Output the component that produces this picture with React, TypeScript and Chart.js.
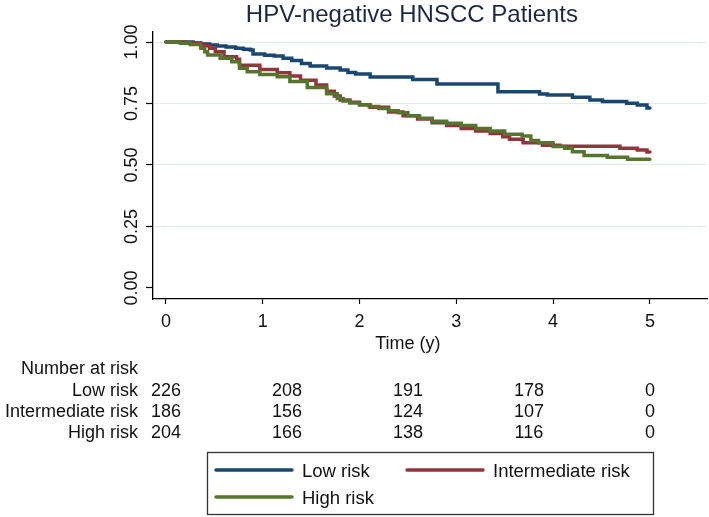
import React, { useEffect, useRef } from 'react';
import { Chart, registerables } from 'chart.js';

Chart.register(...registerables);

const TITLE = 'HPV-negative HNSCC Patients';
const X_TITLE = 'Time (y)';
const X_TICKS = [0, 1, 2, 3, 4, 5];
const Y_TICKS = [0, 0.25, 0.5, 0.75, 1];
const Y_TICK_LABELS = ['0.00', '0.25', '0.50', '0.75', '1.00'];
const SERIES_NAMES = ['Low risk', 'Intermediate risk', 'High risk'];
const SERIES_COLORS = ['#1a476f', '#90353b', '#55752f'];

// Kaplan-Meier step points (time in years, survival)
const lowT = [0, 0.28, 0.36, 0.45, 0.53, 0.62, 0.72, 0.8, 0.87, 0.9, 1.02, 1.12, 1.21, 1.3, 1.4, 1.49, 1.66, 1.8, 1.88, 1.96, 2.11, 2.55, 2.8, 3.43, 3.86, 3.94, 4.2, 4.38, 4.51, 4.76, 4.87, 4.97, 5.0];
const lowS = [1, 0.996, 0.992, 0.988, 0.984, 0.98, 0.975, 0.971, 0.967, 0.951, 0.946, 0.943, 0.934, 0.925, 0.913, 0.902, 0.894, 0.886, 0.876, 0.87, 0.858, 0.848, 0.829, 0.798, 0.789, 0.785, 0.775, 0.764, 0.758, 0.751, 0.744, 0.732, 0.732];

const midT = [0, 0.2, 0.36, 0.45, 0.51, 0.6, 0.73, 0.76, 0.97, 1.15, 1.28, 1.39, 1.55, 1.66, 1.74, 1.8, 1.9, 2.0, 2.11, 2.3, 2.45, 2.6, 2.75, 2.9, 3.05, 3.2, 3.35, 3.48, 3.55, 3.69, 3.89, 4.07, 4.69, 4.87, 4.97, 5.0];
const midS = [1, 0.995, 0.985, 0.975, 0.96, 0.94, 0.93, 0.905, 0.888, 0.875, 0.862, 0.845, 0.825, 0.8, 0.78, 0.764, 0.755, 0.745, 0.735, 0.715, 0.7, 0.687, 0.672, 0.66, 0.648, 0.638, 0.628, 0.615, 0.605, 0.59, 0.58, 0.576, 0.568, 0.561, 0.553, 0.553];

const highT = [0, 0.15, 0.25, 0.36, 0.4, 0.43, 0.56, 0.68, 0.76, 0.84, 0.97, 1.15, 1.28, 1.46, 1.66, 1.77, 1.83, 1.9, 2.0, 2.1, 2.2, 2.3, 2.4, 2.5, 2.62, 2.75, 2.9, 3.05, 3.2, 3.35, 3.5, 3.68, 3.77, 3.85, 4.0, 4.12, 4.2, 4.32, 4.56, 4.77, 5.0];
const highS = [1, 0.995, 0.99, 0.975, 0.96, 0.947, 0.934, 0.92, 0.893, 0.879, 0.868, 0.859, 0.839, 0.815, 0.79, 0.77, 0.76, 0.752, 0.745, 0.738, 0.73, 0.72, 0.712, 0.7, 0.69, 0.678, 0.67, 0.66, 0.648, 0.638, 0.625, 0.618, 0.6, 0.59, 0.575, 0.568, 0.554, 0.539, 0.531, 0.523, 0.523];

const RISK_HEADER = 'Number at risk';
const RISK_TIMES = [0, 1.25, 2.5, 3.75, 5];
const RISK_LOW = [226, 208, 191, 178, 0];
const RISK_MID = [186, 156, 124, 107, 0];
const RISK_HIGH = [204, 166, 138, 116, 0];

const FONT = "'Liberation Sans', Arial, Helvetica, sans-serif";
const TEXT = '#111111';

export default function App() {
  const ref = useRef<HTMLCanvasElement>(null);

  useEffect(() => {
    const canvas = ref.current;
    if (!canvas) return;
    const series = [
      { t: lowT, s: lowS },
      { t: midT, s: midS },
      { t: highT, s: highS },
    ];
    const riskRows = [RISK_LOW, RISK_MID, RISK_HIGH];

    const overlay = {
      id: 'overlay',
      afterDraw(chart: any) {
        const ctx = chart.ctx as CanvasRenderingContext2D;
        const xs = chart.scales.x;
        const ys = chart.scales.y;
        ctx.save();
        // title
        ctx.fillStyle = '#1b2840';
        ctx.font = `24px ${FONT}`;
        ctx.textAlign = 'center';
        ctx.textBaseline = 'alphabetic';
        ctx.fillText(TITLE, xs.getPixelForValue(2.5) + 4, 22);

        // y tick labels (rotated)
        ctx.fillStyle = TEXT;
        ctx.font = `18px ${FONT}`;
        Y_TICKS.forEach((v, i) => {
          const y = ys.getPixelForValue(v);
          ctx.save();
          ctx.translate(137, y);
          ctx.rotate(-Math.PI / 2);
          ctx.textAlign = 'center';
          ctx.textBaseline = 'alphabetic';
          ctx.fillText(Y_TICK_LABELS[i], 0, 0);
          ctx.restore();
        });

        // x axis title
        ctx.textAlign = 'center';
        ctx.fillText(X_TITLE, xs.getPixelForValue(2.5), 349);

        // risk table
        ctx.textAlign = 'right';
        ctx.fillText(RISK_HEADER, 138, 374);
        const rowBase = [396, 417, 438];
        riskRows.forEach((row, r) => {
          ctx.textAlign = 'right';
          ctx.fillText(SERIES_NAMES[r], 138, rowBase[r]);
          ctx.textAlign = 'center';
          row.forEach((n, k) => {
            ctx.fillText(String(n), xs.getPixelForValue(RISK_TIMES[k]), rowBase[r]);
          });
        });

        // legend
        ctx.strokeStyle = '#333333';
        ctx.lineWidth = 1.3;
        ctx.strokeRect(207.5, 452.5, 446, 62);
        const items = [
          { x: 216, y: 470 },
          { x: 407, y: 470 },
          { x: 216, y: 497 },
        ];
        ctx.font = `18.5px ${FONT}`;
        ctx.textAlign = 'left';
        items.forEach((it, i) => {
          ctx.strokeStyle = SERIES_COLORS[i];
          ctx.lineWidth = 3.5;
          ctx.lineCap = 'round';
          ctx.beginPath();
          ctx.moveTo(it.x, it.y);
          ctx.lineTo(it.x + 76, it.y);
          ctx.stroke();
          ctx.fillStyle = TEXT;
          ctx.fillText(SERIES_NAMES[i], it.x + 86, it.y + 6.5);
        });
        ctx.restore();
      },
    };

    const chart = new Chart(canvas, {
      type: 'line',
      data: {
        datasets: series.map((d, i) => ({
          label: SERIES_NAMES[i],
          data: d.t.map((t, j) => ({ x: t, y: d.s[j] })),
          borderColor: SERIES_COLORS[i],
          backgroundColor: SERIES_COLORS[i],
          borderWidth: 3.5,
          pointRadius: 0,
          pointHoverRadius: 0,
          stepped: true,
          fill: false,
          order: 3 - i,
          borderCapStyle: 'round',
        })),
      },
      options: {
        responsive: false,
        animation: false,
        devicePixelRatio: 1,
        layout: { padding: { top: 32, left: 0, right: 2, bottom: 0 } },
        plugins: {
          legend: { display: false },
          title: { display: false },
          tooltip: { enabled: false },
        },
        scales: {
          x: {
            type: 'linear',
            min: -0.134,
            max: 5.59,
            afterBuildTicks: (s: any) => {
              s.ticks = X_TICKS.map((v) => ({ value: v }));
            },
            afterFit: (s: any) => {
              s.height = 218;
            },
            grid: {
              drawOnChartArea: false,
              drawTicks: true,
              tickLength: 5,
              tickColor: '#000',
              tickWidth: 1.2,
            },
            border: { display: true, color: '#000', width: 1.3 },
            ticks: {
              font: { family: FONT, size: 18 },
              color: TEXT,
              padding: 7,
              maxRotation: 0,
              autoSkip: false,
            },
          },
          y: {
            type: 'linear',
            min: -0.045,
            max: 1.0407,
            afterBuildTicks: (s: any) => {
              s.ticks = Y_TICKS.map((v) => ({ value: v }));
            },
            afterFit: (s: any) => {
              s.width = 153;
            },
            grid: {
              color: (c: any) => (c.tick && c.tick.value > 0 ? '#e2ebed' : 'rgba(0,0,0,0)'),
              lineWidth: 1,
              tickColor: '#000',
              tickLength: 7,
              tickWidth: 1.2,
            },
            border: { display: true, color: '#000', width: 1.3 },
            ticks: { display: false },
          },
        },
      },
      plugins: [overlay],
    } as any);

    return () => chart.destroy();
  }, []);

  return (
    <div style={{ position: 'fixed', left: 0, top: 0, width: 709, height: 517, background: '#fff' }}>
      <canvas ref={ref} width={709} height={517} style={{ display: 'block' }} />
    </div>
  );
}
